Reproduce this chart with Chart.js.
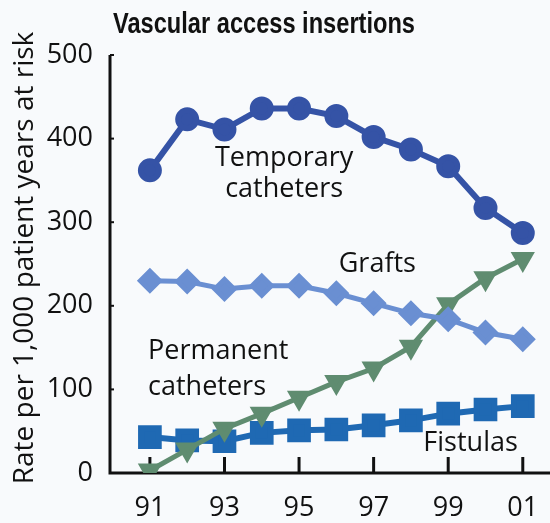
<!DOCTYPE html>
<html>
<head>
<meta charset="utf-8">
<script src="https://cdn.jsdelivr.net/npm/chart.js@4/dist/chart.umd.min.js"></script>
<style>
  html, body { margin: 0; padding: 0; background: #f8fafc; }
  #wrap { width: 550px; height: 523px; position: relative; }
</style>
</head>
<body>
<div id="wrap"><canvas id="c" width="550" height="523"></canvas></div>
<script>
// ---- Data ----
const years = [91, 92, 93, 94, 95, 96, 97, 98, 99, 100, 101];
const xTickValues = [91, 93, 95, 97, 99, 101];
const xTickLabels = ['91', '93', '95', '97', '99', '01'];
const yTickValues = [0, 100, 200, 300, 400, 500];
const yTickLabels = ['0', '100', '200', '300', '400', '500'];

const temporaryCatheters = [362, 423, 411, 436, 436, 427, 402, 387, 367, 317, 287];
const grafts             = [230, 229, 220, 224, 224, 215, 203, 191, 184, 168, 160];
const permanentCatheters = [3, 28, 53, 71, 90, 109, 125, 151, 202, 233, 256];
const fistulas           = [43, 39, 38, 48, 51, 52, 57, 63, 71, 76, 80];

const titleText = 'Vascular access insertions';
const yTitle = 'Rate per 1,000 patient years at risk';

// annotation labels placed in data units
const annotations = [
  { lines: ['Temporary', 'catheters'], x: 94.6, y: [377, 339], align: 'center' },
  { lines: ['Grafts'], x: 97.1, y: [250], align: 'center' },
  { lines: ['Permanent', 'catheters'], x: 90.95, y: [145, 102], align: 'left' },
  { lines: ['Fistulas'], x: 99.6, y: [36], align: 'center' }
];

function pts(arr) { return years.map((yr, i) => ({ x: yr, y: arr[i] })); }

const FONT = "'Open Sans', 'Noto Sans', sans-serif";

function stretchedText(ctx, text, x, y, font, targetW, align) {
  ctx.save();
  ctx.font = font;
  const w = ctx.measureText(text).width;
  const sx = targetW / w;
  ctx.translate(x, y);
  ctx.scale(sx, 1);
  ctx.textAlign = align || 'left';
  ctx.fillText(text, 0, 0);
  ctx.restore();
}

const bgPlugin = {
  id: 'bg',
  beforeDraw(chart) {
    const ctx = chart.ctx;
    ctx.save();
    ctx.fillStyle = '#f8fafc';
    ctx.fillRect(0, 0, chart.width, chart.height);
    ctx.restore();
  }
};

const decoPlugin = {
  id: 'deco',
  beforeDatasetsDraw(chart) {
    const ctx = chart.ctx;
    const xs = chart.scales.x, ys = chart.scales.y;
    const ca = chart.chartArea;
    ctx.save();
    ctx.strokeStyle = '#111';
    ctx.lineWidth = 3;
    xTickValues.forEach(v => {
      const px = xs.getPixelForValue(v);
      ctx.beginPath();
      ctx.moveTo(px, ca.bottom);
      ctx.lineTo(px, ca.bottom - 16);
      ctx.stroke();
    });
    ctx.lineWidth = 2;
    yTickValues.forEach(v => {
      const py = ys.getPixelForValue(v);
      ctx.beginPath();
      ctx.moveTo(ca.left, py);
      ctx.lineTo(ca.left + 4, py);
      ctx.stroke();
    });
    ctx.lineWidth = 3;
    ctx.beginPath();
    ctx.moveTo(ca.left, ys.getPixelForValue(500));
    ctx.lineTo(ca.left, ca.bottom);
    ctx.lineTo(ca.right, ca.bottom);
    ctx.stroke();

    // tick labels
    ctx.fillStyle = '#111';
    ctx.font = "500 27px " + FONT;
    ctx.textBaseline = 'middle';
    ctx.textAlign = 'center';
    xTickValues.forEach((v, i) => {
      ctx.fillText(xTickLabels[i], xs.getPixelForValue(v), ca.bottom + 35);
    });
    ctx.textAlign = 'right';
    yTickValues.forEach((v, i) => {
      ctx.fillText(yTickLabels[i], ca.left - 17, ys.getPixelForValue(v));
    });

    // y title
    ctx.save();
    ctx.translate(33, 258);
    ctx.rotate(-Math.PI / 2);
    ctx.textAlign = 'center';
    ctx.textBaseline = 'alphabetic';
    ctx.font = "500 28px " + FONT;
    ctx.fillText(yTitle, 0, 0);
    ctx.restore();

    ctx.restore();
  },
  afterDatasetsDraw(chart) {
    const ctx = chart.ctx;
    const xs = chart.scales.x, ys = chart.scales.y;
    ctx.save();
    ctx.fillStyle = '#111';
    ctx.textBaseline = 'middle';
    ctx.font = "500 27px " + FONT;
    annotations.forEach(a => {
      ctx.textAlign = a.align;
      a.lines.forEach((ln, i) => {
        ctx.fillText(ln, xs.getPixelForValue(a.x), ys.getPixelForValue(a.y[i]));
      });
    });
    ctx.textBaseline = 'alphabetic';
    stretchedText(ctx, titleText, 113, 33, "bold 29px 'Liberation Sans Narrow', 'Liberation Sans', sans-serif", 302, 'left');
    ctx.restore();
  }
};

new Chart(document.getElementById('c'), {
  type: 'line',
  data: {
    datasets: [
      {
        label: 'Temporary catheters', data: pts(temporaryCatheters),
        borderColor: '#3553a6', backgroundColor: '#3553a6',
        borderWidth: 6, pointStyle: 'circle', pointRadius: 9, tension: 0
      },
      {
        label: 'Grafts', data: pts(grafts),
        borderColor: '#6a8fd2', backgroundColor: '#6a8fd2',
        borderWidth: 5, pointStyle: 'rectRot', pointRadius: 9.5, tension: 0
      },
      {
        label: 'Permanent catheters', data: pts(permanentCatheters),
        borderColor: '#5f8c70', backgroundColor: '#5f8c70',
        borderWidth: 5, pointStyle: 'triangle', rotation: 180, pointRadius: 9, tension: 0
      },
      {
        label: 'Fistulas', data: pts(fistulas),
        borderColor: '#1f69b3', backgroundColor: '#1f69b3',
        borderWidth: 6, pointStyle: 'rect', pointRadius: 12.5, tension: 0
      }
    ]
  },
  options: {
    responsive: false,
    animation: false,
    devicePixelRatio: 1,
    layout: { autoPadding: false, padding: { top: 55, right: 0, bottom: 0, left: 0 } },
    plugins: { legend: { display: false }, tooltip: { enabled: false }, title: { display: false } },
    scales: {
      x: {
        type: 'linear', min: 89.93, max: 101.73,
        grid: { display: false, drawTicks: false },
        border: { display: false },
        ticks: { display: false },
        afterBuildTicks(scale) { scale.ticks = xTickValues.map(v => ({ value: v })); },
        afterFit(scale) { scale.height = 50; }
      },
      y: {
        min: 0, max: 500,
        grid: { display: false, drawTicks: false },
        border: { display: false },
        ticks: { display: false },
        afterBuildTicks(scale) { scale.ticks = yTickValues.map(v => ({ value: v })); },
        afterFit(scale) { scale.width = 110; }
      }
    }
  },
  plugins: [bgPlugin, decoPlugin]
});
</script>
</body>
</html>
